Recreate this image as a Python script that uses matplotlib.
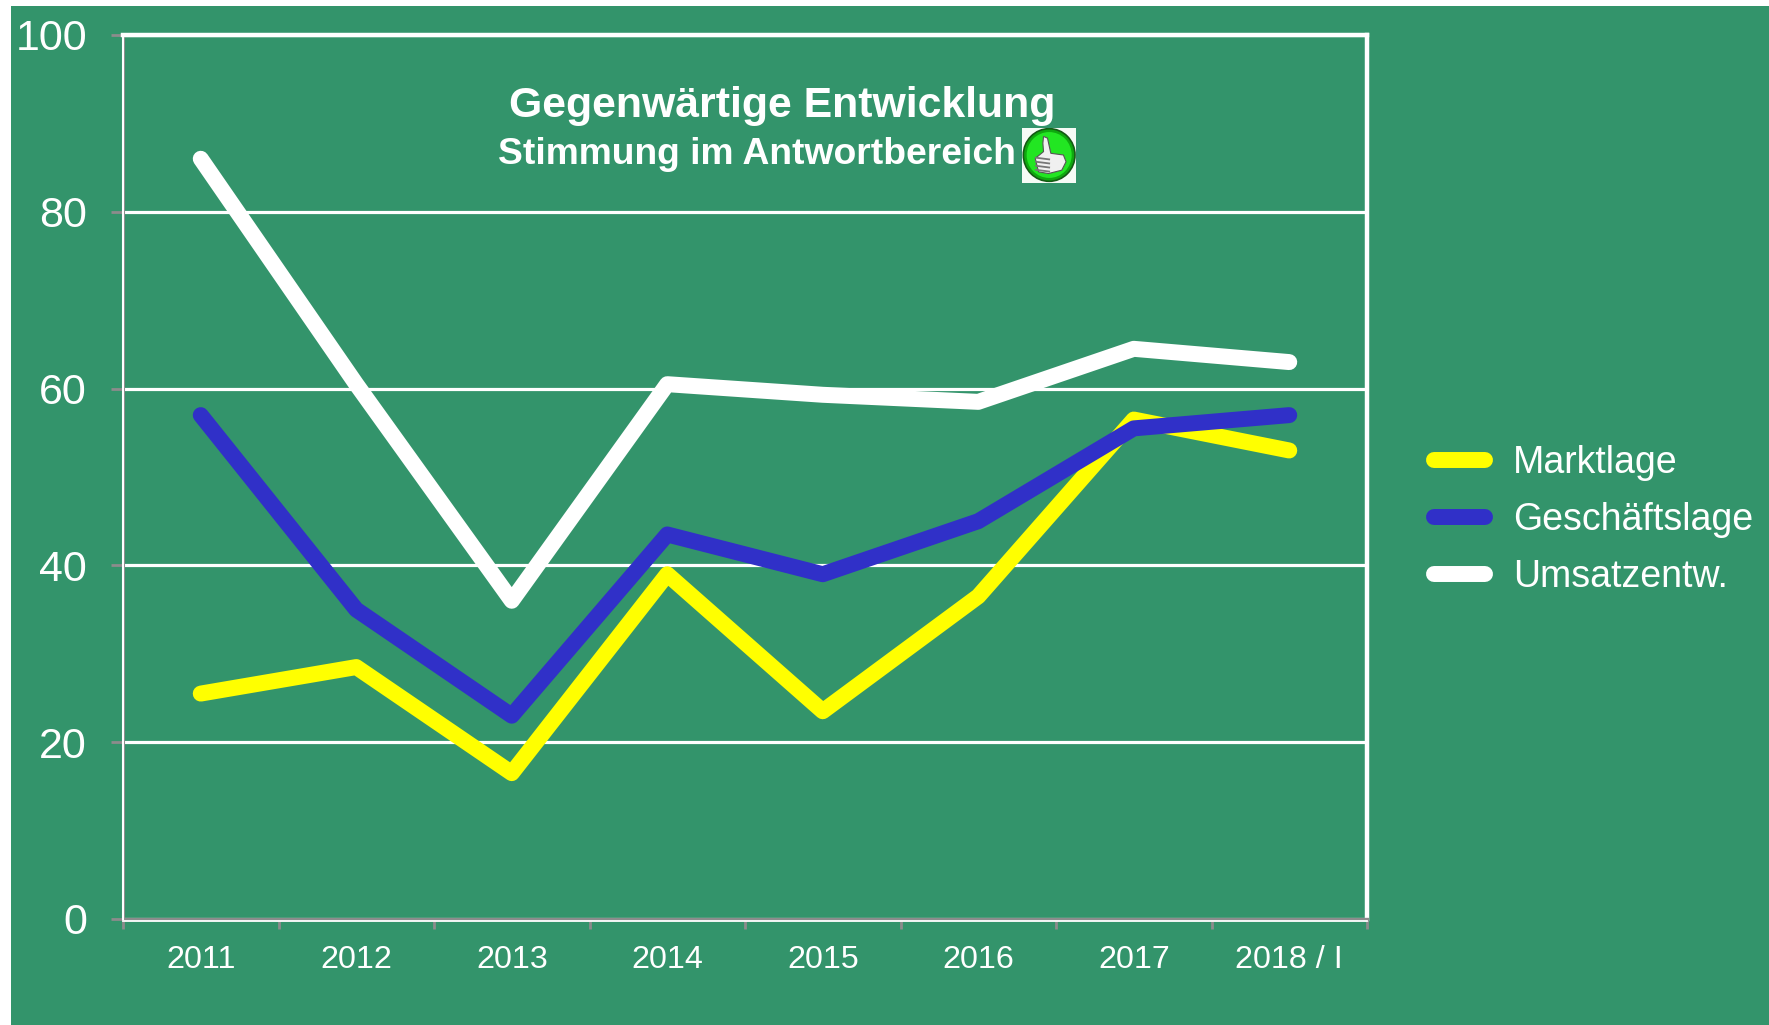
import matplotlib
matplotlib.use('Agg')
import matplotlib.pyplot as plt
from matplotlib.patches import Rectangle, Circle, Polygon

plt.rcParams['font.family'] = ['Liberation Sans', 'DejaVu Sans']

W, H = 1769, 1025
GREEN = '#33946B'
GRAY = '#8C8C8C'

years = ['2011', '2012', '2013', '2014', '2015', '2016', '2017', '2018 / I']
marktlage = [25.5, 28.5, 16.5, 39, 23.5, 36.5, 56.5, 53]
geschaeftslage = [57, 35, 23, 43.5, 39, 45, 55.5, 57]
umsatz = [86, 60.5, 36, 60.5, 59.3, 58.5, 64.5, 63]
yticks = [0, 20, 40, 60, 80, 100]


def px_box(x0, y0, x1, y1):
    # pixel box (top left origin) to figure fractions
    return [x0 / W, 1 - y1 / H, (x1 - x0) / W, (y1 - y0) / H]


fig = plt.figure(figsize=(W / 100, H / 100), dpi=100, facecolor='white')
fig.add_artist(Rectangle((11 / W, 0), 1 - 11 / W, 1 - 6 / H, transform=fig.transFigure,
                         facecolor=GREEN, edgecolor='none', zorder=-5))

ax = fig.add_axes(px_box(123, 35, 1367, 919))
ax.set_facecolor('none')

xs = list(range(len(years)))
ax.plot(xs, marktlage, color='#FFFF00', lw=11.5, label='Marktlage',
        solid_capstyle='round', solid_joinstyle='round', zorder=3)
ax.plot(xs, geschaeftslage, color='#3030C8', lw=11.5, label='Geschäftslage',
        solid_capstyle='round', solid_joinstyle='round', zorder=4)
ax.plot(xs, umsatz, color='white', lw=11.5, label='Umsatzentw.',
        solid_capstyle='round', solid_joinstyle='round', zorder=5)

ax.set_xlim(-0.5, 7.5)
ax.set_ylim(0, 100)

# grid and frame
ax.yaxis.grid(True, color='white', lw=2.3)
ax.set_axisbelow(True)
ax.spines['top'].set_color('white')
ax.spines['top'].set_linewidth(3.2)
ax.spines['right'].set_color('white')
ax.spines['right'].set_linewidth(3.2)
ax.spines['left'].set_color(GRAY)
ax.spines['left'].set_linewidth(2.2)
ax.spines['bottom'].set_color(GRAY)
ax.spines['bottom'].set_linewidth(2.4)

# thin white edge along the gray axis lines
ax.axvline(-0.5, color='white', lw=1.5, clip_on=False, zorder=2.6)
ax.axhline(-0.2, color='white', lw=1.3, clip_on=False, zorder=2.6)

ax.set_yticks(yticks)
ax.tick_params(axis='y', length=9, width=2, color=GRAY, labelcolor='white', labelsize=31, pad=17)

# ticks between the categories, labels at the centres
ax.set_xticks([i - 0.5 for i in range(len(years) + 1)])
ax.set_xticklabels([])
ax.set_xticks(xs, labels=years, minor=True)
ax.tick_params(axis='x', which='major', length=7, width=2, color=GRAY)
ax.tick_params(axis='x', which='minor', length=0, labelcolor='white', labelsize=23.2, pad=19)

fig.text(782 / W, 1 - 106 / H, 'Gegenwärtige Entwicklung', color='white', fontsize=30.8,
         fontweight='bold', ha='center', va='center')
fig.text(498 / W, 1 - 154 / H, 'Stimmung im Antwortbereich', color='white', fontsize=26.8,
         fontweight='bold', ha='left', va='center')

# thumbs-up icon, units are 1/163 of the icon box
icon = fig.add_axes(px_box(1022, 128, 1076, 183))
icon.set_xlim(0, 163)
icon.set_ylim(163, 0)
icon.axis('off')
icon.add_patch(Rectangle((0, 0), 163, 163, facecolor='#F6FBF6', edgecolor='none'))
icon.add_patch(Circle((82, 80), 78, facecolor='#0FA80F', edgecolor='#145A14', lw=1.2))
icon.add_patch(Circle((82, 80), 68, facecolor='#22E622', edgecolor='none'))
thumb = [(65, 25), (77, 30), (87, 75), (125, 80), (133, 100), (120, 125), (80, 135),
         (50, 130), (40, 90), (65, 70), (63, 45)]
icon.add_patch(Polygon(thumb, closed=True, facecolor='#F0F0F0', edgecolor='#555555', lw=0.8))
for fy in (88, 100, 112, 124):
    icon.plot([42, 82], [fy, fy + 5], color='#777777', lw=1.3)

handles, labels = ax.get_legend_handles_labels()
leg = fig.legend(handles, labels, loc='center left', bbox_to_anchor=(1434 / W, 1 - 520 / H),
                 frameon=False, fontsize=27, labelcolor='white', handlelength=1.36,
                 handletextpad=0.75, labelspacing=0.56, borderpad=0, borderaxespad=0)

fig.savefig('out.png', dpi=100, facecolor=fig.get_facecolor())
